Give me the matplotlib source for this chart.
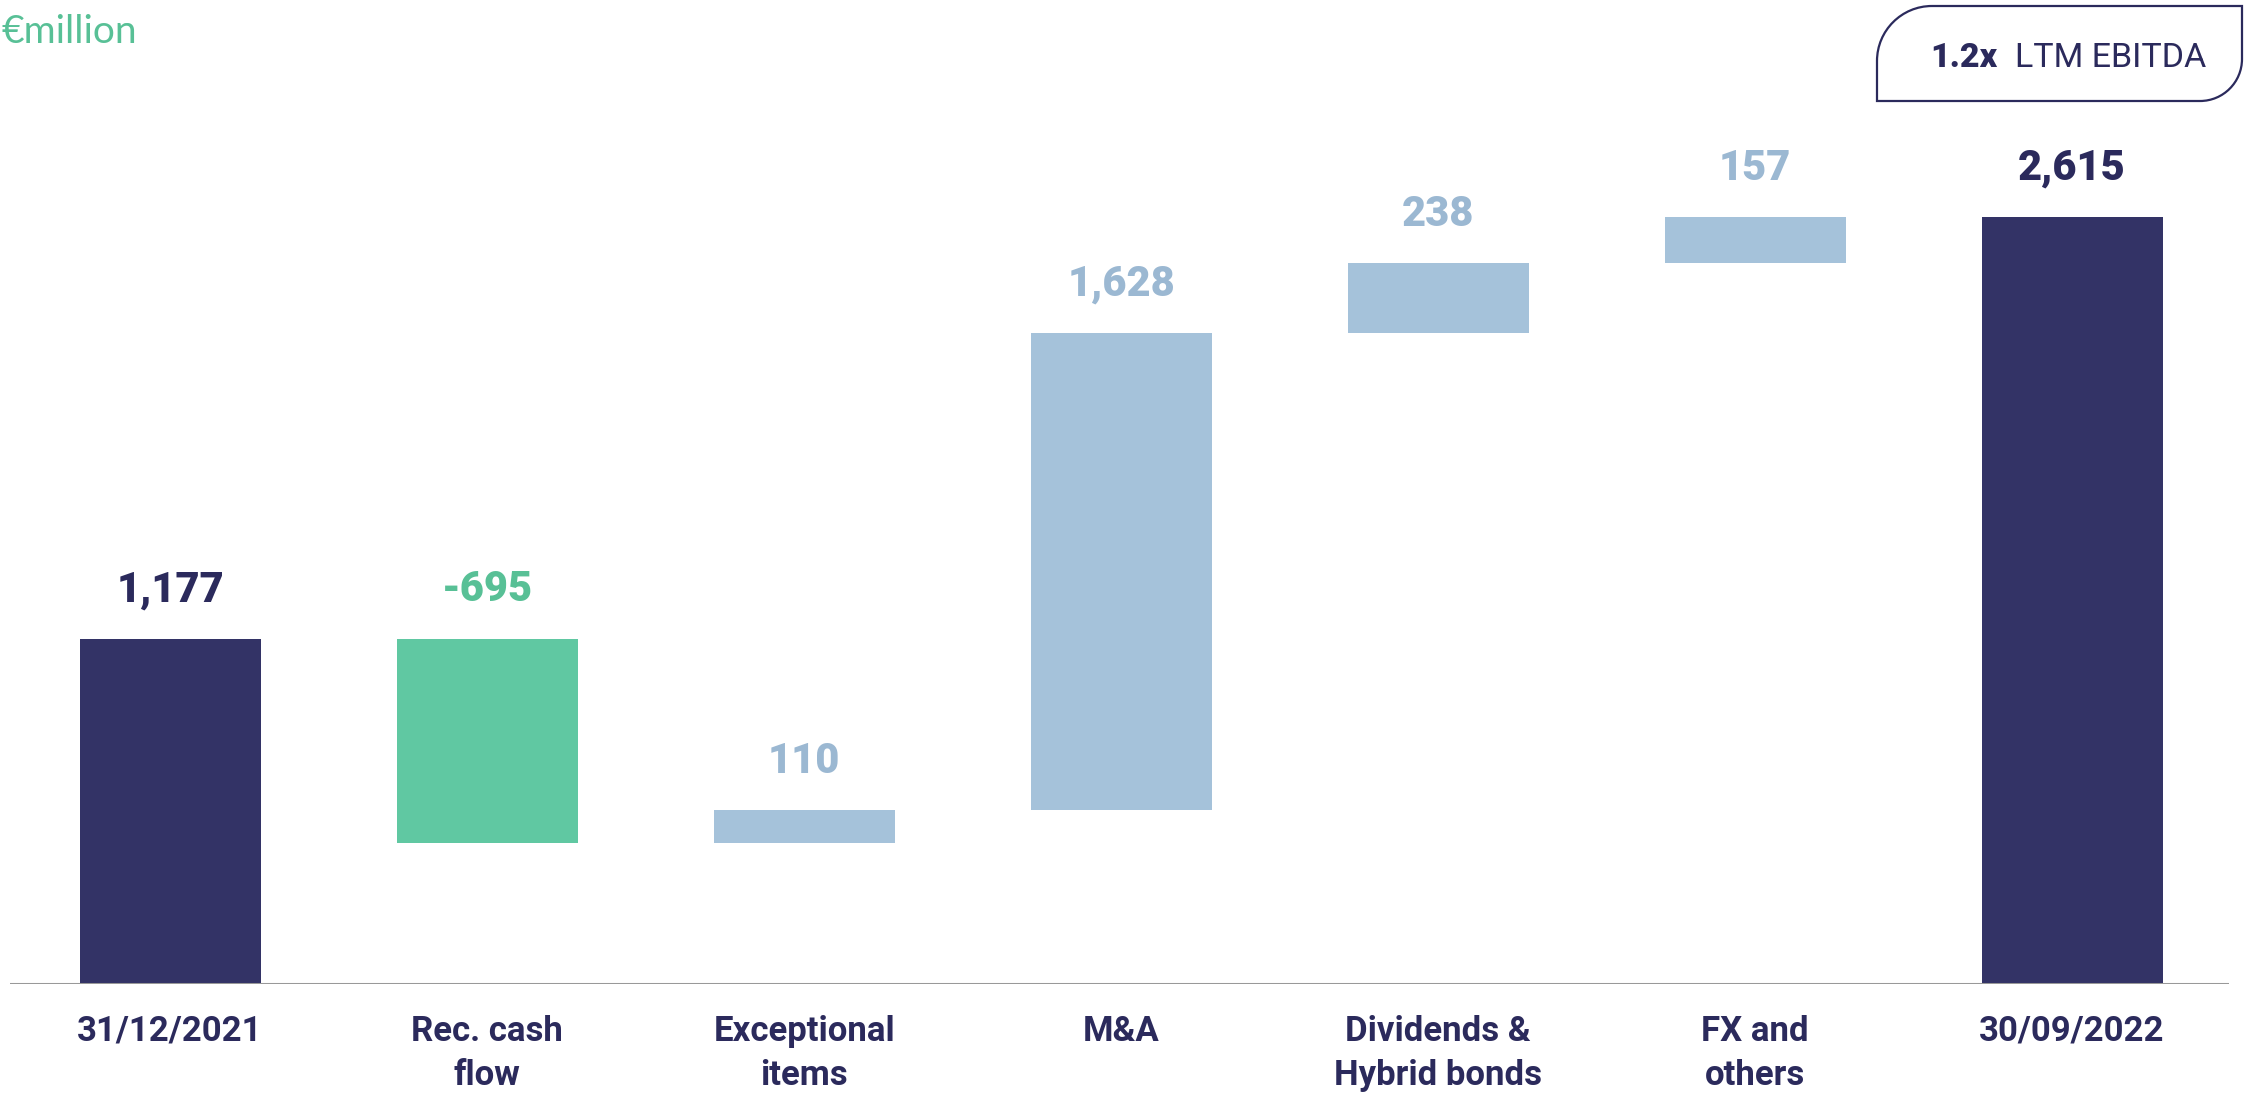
import matplotlib
matplotlib.use("Agg")
import matplotlib.pyplot as plt
from matplotlib.path import Path
from matplotlib.patches import PathPatch
import numpy as np

# ---- data ----
categories = ["31/12/2021", "Rec. cash\nflow", "Exceptional\nitems", "M&A",
              "Dividends &\nHybrid bonds", "FX and\nothers", "30/09/2022"]
values = [1177, -695, 110, 1628, 238, 157, 2615]
kinds = ["total", "decrease", "increase", "increase", "increase", "increase", "total"]
unit_label = "€million"
box_bold = "1.2x"
box_text = "LTM EBITDA"

NAVY = "#333366"
NAVY_TXT = "#2b2a5c"
GREEN = "#60c8a2"
GREEN_TXT = "#58c096"
LBLUE = "#a5c2da"
LBLUE_TXT = "#9bb8d2"
AXIS = "#999999"

fig = plt.figure(figsize=(22.55, 10.97), dpi=100)
ax = fig.add_axes([10 / 2255, (1097 - 984) / 1097, (2229 - 10) / 2255, 984 / 1097])
ax.set_xlim(-0.505, 6.495)
ax.set_ylim(0, 3356)
ax.axis("off")

x = np.arange(len(categories))
bottoms, heights, colors, tcolors = [], [], [], []
running = 0
for v, k in zip(values, kinds):
    if k == "total":
        bottoms.append(0)
        heights.append(v)
        running = v
        colors.append(NAVY)
        tcolors.append(NAVY_TXT)
    else:
        bottoms.append(running)
        heights.append(v)
        running += v
        if k == "decrease":
            colors.append(GREEN)
            tcolors.append(GREEN_TXT)
        else:
            colors.append(LBLUE)
            tcolors.append(LBLUE_TXT)

ax.bar(x, heights, bottom=bottoms, width=0.571, color=colors, zorder=2)
ax.axhline(0, color=AXIS, lw=2.2, zorder=3, xmin=0, xmax=1)

for xi, b, h, v, tc in zip(x, bottoms, heights, values, tcolors):
    top = max(b, b + h)
    ax.annotate(f"{v:,}", (xi, top), xytext=(0, 27), textcoords="offset points",
                ha="center", va="baseline", fontsize=30, fontweight="black",
                family="Roboto", color=tc)

for xi, c in zip(x, categories):
    ax.annotate(c, (xi, 0), xytext=(0, -22), textcoords="offset points",
                ha="center", va="top", fontsize=25, fontweight="bold",
                family="Roboto", color=NAVY_TXT, linespacing=1.45,
                annotation_clip=False)

# overlay in pixel coordinates
ov = fig.add_axes([0, 0, 1, 1], zorder=5)
ov.set_xlim(0, 2255)
ov.set_ylim(1097, 0)
ov.axis("off")
ov.patch.set_alpha(0)

ov.text(1, 43, unit_label, ha="left", va="baseline",
        fontsize=28, family="Lato", color=GREEN_TXT)

L, R, T, B = 1877, 2242, 6, 101
r1, r2 = 55, 42
k = 0.5523
verts = [
    (L + r1, T), (R, T), (R, B - r2),
    (R, B - r2 + k * r2), (R - r2 + k * r2, B), (R - r2, B),
    (L, B), (L, T + r1),
    (L, T + r1 - k * r1), (L + r1 - k * r1, T), (L + r1, T),
]
codes = [Path.MOVETO, Path.LINETO, Path.LINETO,
         Path.CURVE4, Path.CURVE4, Path.CURVE4,
         Path.LINETO, Path.LINETO,
         Path.CURVE4, Path.CURVE4, Path.CURVE4]
ov.add_patch(PathPatch(Path(verts, codes), facecolor="white", edgecolor=NAVY_TXT, lw=1.6))
ov.text(1930, 67, box_bold, ha="left", va="baseline", fontsize=24.5,
        fontweight="black", family="Roboto", color=NAVY_TXT)
ov.text(2015, 67, box_text, ha="left", va="baseline", fontsize=24.5,
        family="Roboto", color=NAVY_TXT)

fig.savefig("out.png", dpi=100)
